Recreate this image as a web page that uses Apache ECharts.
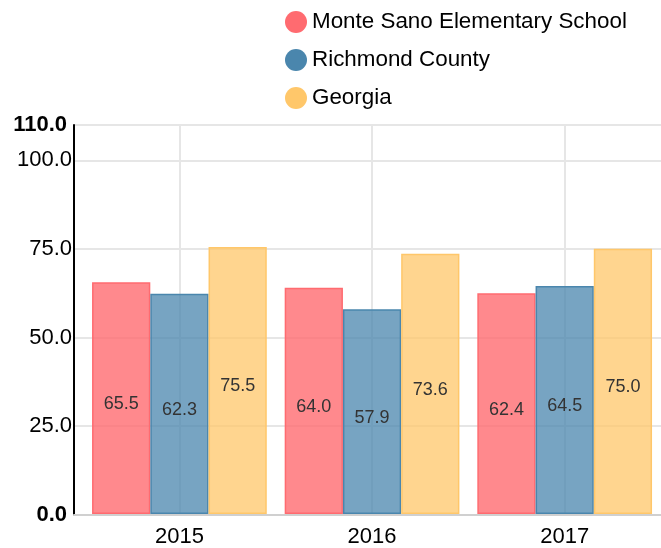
<!DOCTYPE html>
<html>
<head>
<meta charset="utf-8">
<script src="https://cdn.jsdelivr.net/npm/echarts@6/dist/echarts.min.js"></script>
<style>
html,body{margin:0;padding:0;background:#fff;}
#chart{width:661px;height:548px;}
</style>
</head>
<body>
<div id="chart"></div>
<script>
const categories = ['2015', '2016', '2017'];
const seriesNames = ['Monte Sano Elementary School', 'Richmond County', 'Georgia'];
const monteSano = [65.5, 64.0, 62.4];
const richmond = [62.3, 57.9, 64.5];
const georgia = [75.5, 73.6, 75.0];
const yMin = 0, yMax = 110, yInterval = 25;
const yBoldTicks = [0, 110];

const solid = ['#FF6B70', '#4A86AD', '#FFC76A'];
const fills = ['rgba(255,107,112,0.8)', 'rgba(74,134,173,0.75)', 'rgba(255,199,106,0.75)'];
const FONT = '"Liberation Sans", Arial, sans-serif';

const chart = echarts.init(document.getElementById('chart'), null, {renderer: 'canvas'});

function mkSeries(i, data) {
  return {
    name: seriesNames[i],
    type: 'bar',
    xAxisIndex: 1,
    yAxisIndex: 1,
    data: data,
    barGap: '0%',
    barCategoryGap: '9.3%',
    itemStyle: {color: fills[i], borderColor: solid[i], borderWidth: 1.5},
    emphasis: {disabled: true},
    label: {
      show: true,
      position: 'inside',
      offset: [0, 6],
      color: '#333',
      fontSize: 18,
      fontFamily: FONT,
      formatter: p => p.value.toFixed(1)
    }
  };
}

chart.setOption({
  animation: false,
  backgroundColor: '#fff',
  textStyle: {fontFamily: FONT},
  legend: {
    orient: 'vertical',
    left: 285,
    top: 11,
    padding: 0,
    itemWidth: 22,
    itemHeight: 22,
    itemGap: 16,
    icon: 'circle',
    textStyle: {fontSize: 22.4, color: '#000', fontFamily: FONT},
    data: seriesNames.map((n, i) => ({name: n, itemStyle: {color: solid[i], borderWidth: 0}}))
  },
  grid: [
    {left: 74, right: 0, top: 125, height: 389.5},
    {left: 83.1, width: 580.3, top: 125, height: 389.5}
  ],
  xAxis: [
    {
      gridIndex: 0, type: 'value', min: 0, max: 1,
      axisLine: {show: true, lineStyle: {color: '#d0d0d0', width: 2}},
      axisTick: {show: false}, axisLabel: {show: false}, splitLine: {show: false}
    },
    {
      gridIndex: 1, type: 'category', data: categories,
      axisLine: {show: false}, axisTick: {show: false},
      axisLabel: {fontSize: 22, color: '#000', margin: 12, fontFamily: FONT},
      splitLine: {show: true, alignWithLabel: true, lineStyle: {color: '#e6e6e6', width: 2}}
    }
  ],
  yAxis: [
    {
      gridIndex: 0, type: 'value', min: yMin, max: yMax, interval: yInterval,
      axisLine: {show: true, lineStyle: {color: '#000', width: 2}},
      axisTick: {show: false},
      splitLine: {show: true, lineStyle: {color: '#e6e6e6', width: 2}},
      axisLabel: {
        fontSize: 22, color: '#000', margin: 2, fontFamily: FONT,
        formatter: v => yBoldTicks.includes(v) ? '{b|' + v.toFixed(1) + '}' : v.toFixed(1),
        rich: {b: {fontWeight: 'bold', fontSize: 22, color: '#000', fontFamily: FONT, padding: [0, 5, 0, 0]}}
      }
    },
    {gridIndex: 1, type: 'value', min: yMin, max: yMax, show: false}
  ],
  series: [mkSeries(0, monteSano), mkSeries(1, richmond), mkSeries(2, georgia)]
});
</script>
</body>
</html>
